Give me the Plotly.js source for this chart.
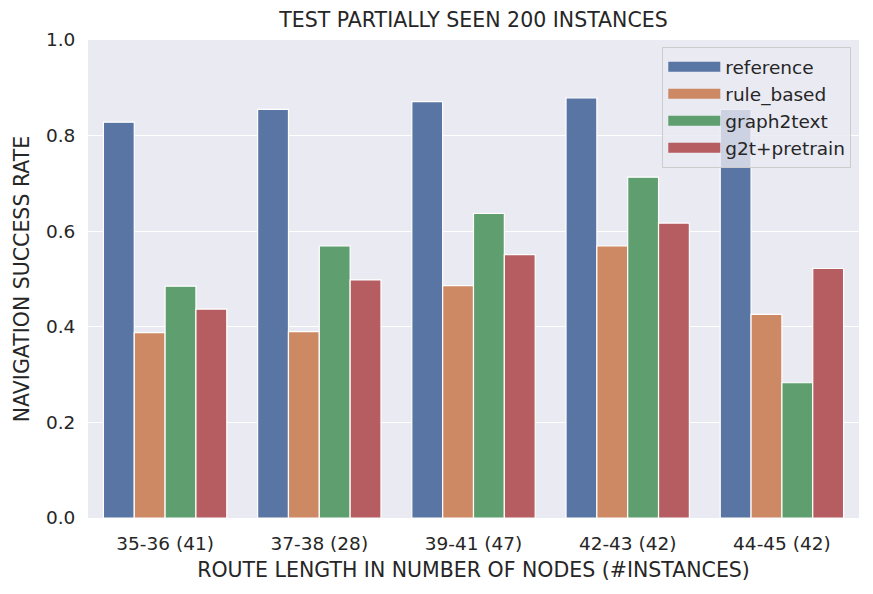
<!DOCTYPE html>
<html>
<head>
<meta charset="utf-8">
<script src="https://cdn.plot.ly/plotly-3.0.1.min.js"></script>
<style>
  html, body { margin: 0; padding: 0; background: #fff; }
  #chart { width: 873px; height: 594px; }
</style>
</head>
<body>
<div id="chart"></div>
<script>
const Plotly = window.Plotly;

const groups = ["35-36 (41)", "37-38 (28)", "39-41 (47)", "42-43 (42)", "44-45 (42)"];
const methods = ["reference", "rule_based", "graph2text", "g2t+pretrain"];

const reference = [0.828, 0.855, 0.871, 0.879, 0.855];
const ruleBased = [0.388, 0.390, 0.486, 0.569, 0.426];
const graph2text = [0.485, 0.569, 0.637, 0.713, 0.283];
const g2tPretrain = [0.437, 0.498, 0.551, 0.617, 0.522];

const seriesValues = [reference, ruleBased, graph2text, g2tPretrain];
const colors = ["#5975a4", "#cc8963", "#5f9e6e", "#b55d60"];

const yTicks = [0, 0.2, 0.4, 0.6, 0.8, 1.0];

// bars themselves, legend drawn by the line traces below (wider swatches)
const barTraces = methods.map((name, i) => ({
    type: "bar",
    name: name,
    x: groups,
    y: seriesValues[i],
    marker: {
        color: colors[i],
        line: { color: "#ffffff", width: 1.2 }
    },
    showlegend: false,
    legendgroup: name
}));

const legendTraces = methods.map((name, i) => ({
    type: "scatter",
    mode: "lines",
    name: name,
    x: [null],
    y: [null],
    line: { color: colors[i], width: 11 },
    legendgroup: name
}));

const textColor = "#262626";

const layout = {
    width: 873,
    height: 594,
    font: { family: "DejaVu Sans", color: textColor, size: 18.5 },
    paper_bgcolor: "#ffffff",
    plot_bgcolor: "#eaeaf2",
    margin: { l: 88, r: 14, t: 40, b: 76 },
    barmode: "group",
    bargap: 0.2,
    bargroupgap: 0,
    title: {
        text: "TEST PARTIALLY SEEN 200 INSTANCES",
        font: { size: 20.5, color: textColor },
        x: 0.5, xref: "paper", xanchor: "center",
        y: 0.966, yref: "container", yanchor: "middle"
    },
    xaxis: {
        title: {
            text: "ROUTE LENGTH IN NUMBER OF NODES (#INSTANCES)",
            font: { size: 20.5, color: textColor },
            standoff: 9
        },
        tickfont: { size: 18.5, color: textColor },
        showgrid: false,
        zeroline: false,
        showline: false,
        ticks: "outside",
        ticklen: 9,
        tickcolor: "rgba(0,0,0,0)"
    },
    yaxis: {
        title: {
            text: "NAVIGATION SUCCESS RATE",
            font: { size: 20.5, color: textColor },
            standoff: 10
        },
        range: [0, 1.0],
        tickvals: yTicks,
        ticktext: yTicks.map(v => v.toFixed(1)),
        tickfont: { size: 18.5, color: textColor },
        gridcolor: "#ffffff",
        gridwidth: 1.3,
        zeroline: false,
        showline: false,
        ticks: "outside",
        ticklen: 8,
        tickcolor: "rgba(0,0,0,0)"
    },
    legend: {
        x: 0.99, xanchor: "right",
        y: 0.985, yanchor: "top",
        bgcolor: "rgba(234,234,242,0.8)",
        bordercolor: "#cccccc",
        borderwidth: 1,
        font: { size: 18.5, color: textColor },
        itemwidth: 52,
        tracegroupgap: 0
    },
    showlegend: true
};

Plotly.newPlot("chart", barTraces.concat(legendTraces), layout, { displayModeBar: false, staticPlot: true });
</script>
</body>
</html>
